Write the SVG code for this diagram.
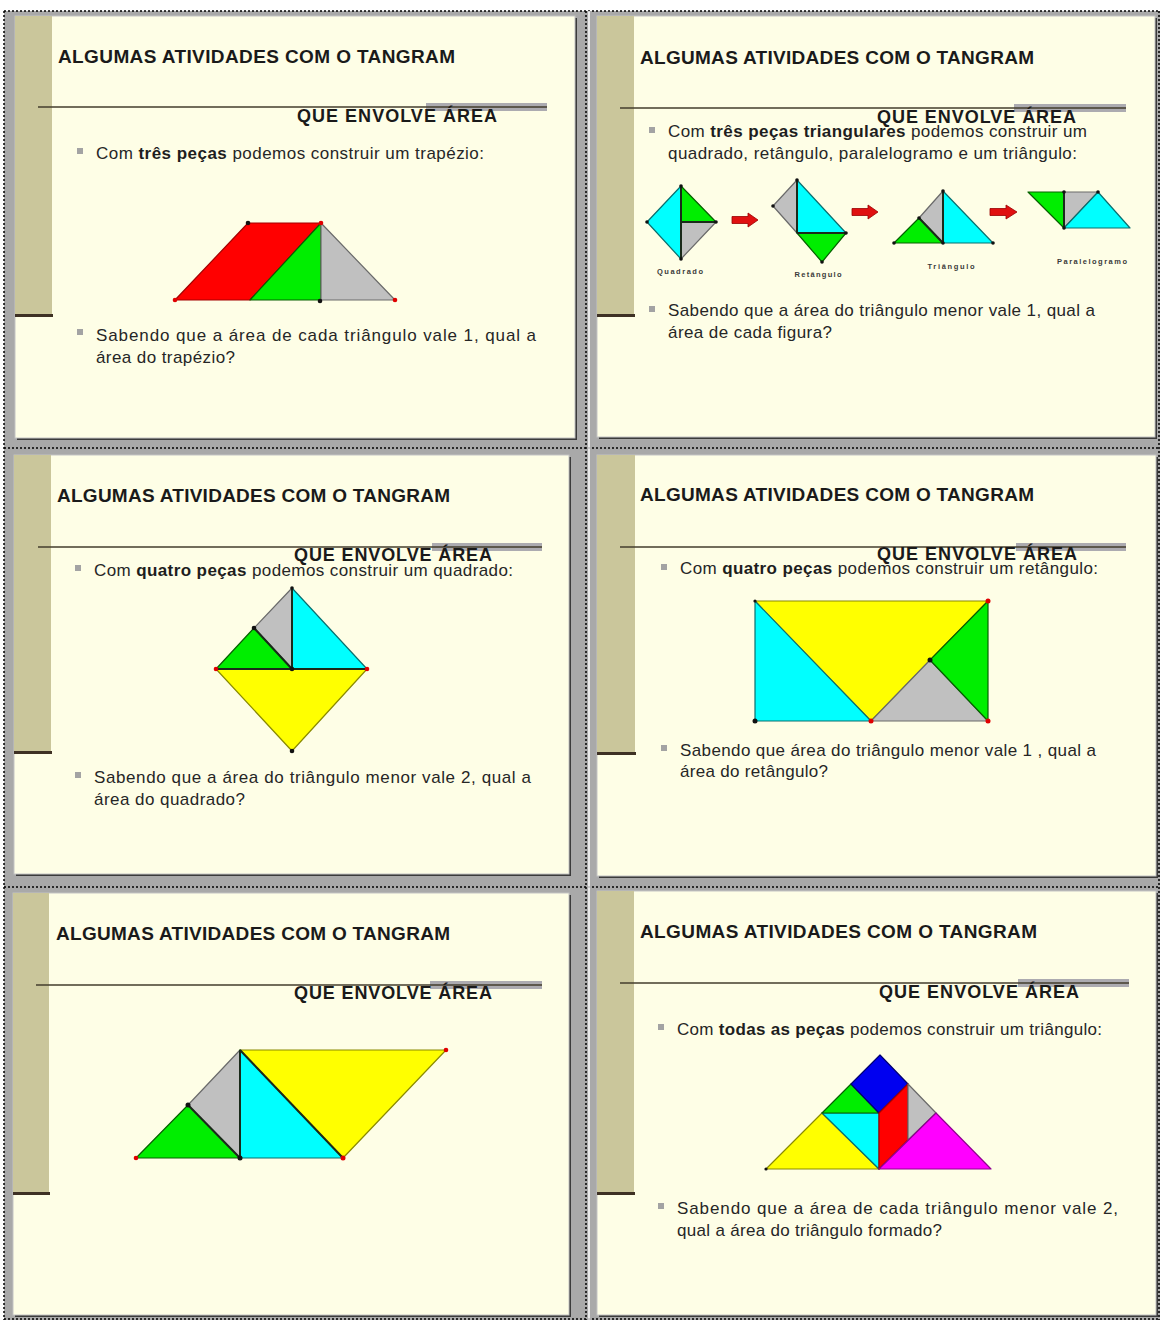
<svg xmlns="http://www.w3.org/2000/svg" width="1162" height="1320" viewBox="0 0 1162 1320">
<defs>
<style>
.frame{fill:#a9a9a9}
.dot{fill:none;stroke:#000;stroke-width:1.5;stroke-dasharray:2 2}
.gap{stroke:#fff;stroke-width:1.5}
.shadow{fill:#3b3b3b}
.slide{fill:#fefee6;stroke:#c4c4c4;stroke-width:1}
.strip{fill:#cac69b}
.stripline{fill:#3e3124}
.band{fill:#9d9ca6;opacity:0.85}
.hline{stroke:#433c2c;stroke-width:1.6}
.title{font-family:"Liberation Sans",Arial,sans-serif;font-weight:bold;font-size:19px;fill:#1a1a1a}
.sub{font-family:"Liberation Sans",Arial,sans-serif;font-weight:bold;font-size:18px;fill:#1a1a1a}
.body{font-family:"Liberation Sans",Arial,sans-serif;font-size:17px;fill:#262626}
.b{font-weight:bold;fill:#1e1e1e}
.bul{fill:#a3a3a3}
.lbl{font-family:"Liberation Sans",Arial,sans-serif;font-weight:bold;font-size:7.5px;fill:#3a3a3a}
.red{fill:#ff0000;stroke:#a40000;stroke-width:1.2;stroke-linejoin:round}
.grn{fill:#00ee00;stroke:#066000;stroke-width:1.2;stroke-linejoin:round}
.gry{fill:#c0c0c0;stroke:#6a6a6a;stroke-width:1.2;stroke-linejoin:round}
.cyn{fill:#00ffff;stroke:#0a6f6f;stroke-width:1.2;stroke-linejoin:round}
.yel{fill:#ffff00;stroke:#8a8a00;stroke-width:1.2;stroke-linejoin:round}
.blu{fill:#0000f0;stroke:#000070;stroke-width:1.2;stroke-linejoin:round}
.mag{fill:#ff00ff;stroke:#900090;stroke-width:1.2;stroke-linejoin:round}
.edge{stroke:#1a2a1a;stroke-width:2}
.dk{fill:#111}
.rd{fill:#e00000}
.arr{fill:#e01010;stroke:#900;stroke-width:0.8}
</style>
</defs>
<rect width="1162" height="1320" fill="#fff"/>
<rect class="frame" x="4" y="11" width="1156" height="1309"/>

<g id="slide1">
<rect class="shadow" x="17" y="18" width="560" height="422"/>
<rect class="slide" x="15" y="16" width="560" height="422"/>
<rect class="strip" x="15" y="16" width="37" height="299"/>
<rect class="stripline" x="15" y="314" width="38" height="3"/>
<rect class="band" x="426" y="103" width="121" height="8"/>
<line class="hline" x1="38" y1="107" x2="547" y2="107"/>
<text class="title" x="58" y="63" textLength="397" lengthAdjust="spacing">ALGUMAS ATIVIDADES COM O TANGRAM</text>
<text class="sub" x="297" y="122" textLength="200" lengthAdjust="spacing">QUE ENVOLVE ÁREA</text>
<rect class="bul" x="77" y="148" width="6" height="6"/>
<text class="body" x="96" y="159" textLength="388" lengthAdjust="spacing">Com <tspan class="b">três peças</tspan> podemos construir um trapézio:</text>
<polygon class="red" points="175,300 248,223 321,223 250,300"/>
<polygon class="grn" points="250,300 321,223 321,300"/>
<polygon class="gry" points="321,223 321,300 395,300"/>
<circle class="dk" cx="248" cy="223" r="2.3"/>
<circle class="rd" cx="321" cy="223" r="2.3"/>
<circle class="rd" cx="175" cy="300" r="2.3"/>
<circle class="dk" cx="320" cy="301" r="2.3"/>
<circle class="rd" cx="395" cy="300" r="2.3"/>
<rect class="bul" x="77" y="329" width="6" height="6"/>
<text class="body" x="96" y="341" textLength="440" lengthAdjust="spacing">Sabendo que a área de cada triângulo vale 1, qual a</text>
<text class="body" x="96" y="363" textLength="139" lengthAdjust="spacing">área do trapézio?</text>
</g>

<g id="slide2">
<rect class="shadow" x="599" y="18" width="558" height="421"/>
<rect class="slide" x="597" y="16" width="558" height="421"/>
<rect class="strip" x="597" y="16" width="37" height="299"/>
<rect class="stripline" x="597" y="314" width="38" height="3"/>
<rect class="band" x="1014" y="104" width="112" height="8"/>
<line class="hline" x1="620" y1="108" x2="1126" y2="108"/>
<text class="title" x="640" y="64" textLength="394" lengthAdjust="spacing">ALGUMAS ATIVIDADES COM O TANGRAM</text>
<text class="sub" x="877" y="123" textLength="199" lengthAdjust="spacing">QUE ENVOLVE ÁREA</text>
<rect class="bul" x="649" y="127" width="6" height="6"/>
<text class="body" x="668" y="137" textLength="419" lengthAdjust="spacing">Com <tspan class="b">três peças triangulares</tspan> podemos construir um</text>
<text class="body" x="668" y="159" textLength="409" lengthAdjust="spacing">quadrado, retângulo, paralelogramo e um triângulo:</text>
<g id="quadrado">
<polygon class="cyn" points="647,222 681,186 681,259"/>
<polygon class="grn" points="681,186 716,222 681,222"/>
<polygon class="gry" points="681,222 716,222 681,259"/>
<line class="edge" x1="681" y1="186" x2="681" y2="259"/>
<line class="edge" x1="681" y1="222" x2="716" y2="222"/>
<circle class="dk" cx="647" cy="222" r="1.8"/><circle class="dk" cx="681" cy="186" r="1.8"/><circle class="dk" cx="716" cy="222" r="1.8"/><circle class="dk" cx="681" cy="259" r="1.8"/>
<text class="lbl" x="680" y="274" text-anchor="middle" textLength="46" lengthAdjust="spacing">Quadrado</text>
</g>
<g id="retangulo">
<polygon class="gry" points="797,180 773,206 797,233"/>
<polygon class="cyn" points="797,180 797,233 846,233"/>
<polygon class="grn" points="797,233 846,233 822,262"/>
<line class="edge" x1="797" y1="180" x2="797" y2="233"/>
<line class="edge" x1="797" y1="233" x2="846" y2="233"/>
<circle class="dk" cx="797" cy="180" r="1.8"/><circle class="dk" cx="773" cy="206" r="1.8"/><circle class="dk" cx="846" cy="233" r="1.8"/><circle class="dk" cx="822" cy="262" r="1.8"/>
<text class="lbl" x="818" y="277" text-anchor="middle" textLength="47" lengthAdjust="spacing">Retângulo</text>
</g>
<g id="triangulo">
<polygon class="gry" points="943,191 919,218 943,243"/>
<polygon class="cyn" points="943,191 943,243 993,243"/>
<polygon class="grn" points="919,218 943,243 894,243"/>
<line class="edge" x1="943" y1="191" x2="943" y2="243"/>
<line class="edge" x1="919" y1="218" x2="943" y2="243"/>
<circle class="dk" cx="943" cy="191" r="1.8"/><circle class="dk" cx="919" cy="218" r="1.8"/><circle class="dk" cx="943" cy="243" r="1.8"/><circle class="dk" cx="894" cy="243" r="1.8"/><circle class="dk" cx="993" cy="243" r="1.8"/>
<text class="lbl" x="951" y="269" text-anchor="middle" textLength="47" lengthAdjust="spacing">Triângulo</text>
</g>
<g id="paralelogramo">
<polygon class="grn" points="1028,192 1064,192 1064,228"/>
<polygon class="gry" points="1064,192 1098,192 1064,228"/>
<polygon class="cyn" points="1098,192 1064,228 1130,228"/>
<line class="edge" x1="1064" y1="192" x2="1064" y2="228"/>
<circle class="dk" cx="1064" cy="192" r="1.8"/><circle class="dk" cx="1098" cy="192" r="1.8"/><circle class="dk" cx="1064" cy="228" r="1.8"/>
<text class="lbl" x="1092" y="264" text-anchor="middle" textLength="70" lengthAdjust="spacing">Paralelogramo</text>
</g>
<g id="connectors">
<polygon class="arr" points="732,216.5 748,216.5 748,213 758,220 748,227 748,223.5 732,223.5"/>
<polygon class="arr" points="852,208.5 868,208.5 868,205 878,212 868,219 868,215.5 852,215.5"/>
<polygon class="arr" points="990,208.5 1006,208.5 1006,205 1017,212 1006,219 1006,215.5 990,215.5"/>
</g>
<rect class="bul" x="649" y="306" width="6" height="6"/>
<text class="body" x="668" y="316" textLength="427" lengthAdjust="spacing">Sabendo que a área do triângulo menor vale 1, qual a</text>
<text class="body" x="668" y="338" textLength="164" lengthAdjust="spacing">área de cada figura?</text>
</g>

<g id="slide3">
<rect class="shadow" x="16" y="457" width="555" height="419"/>
<rect class="slide" x="14" y="455" width="555" height="419"/>
<rect class="strip" x="14" y="455" width="37" height="297"/>
<rect class="stripline" x="14" y="751" width="38" height="3"/>
<rect class="band" x="432" y="543" width="110" height="8"/>
<line class="hline" x1="38" y1="547" x2="542" y2="547"/>
<text class="title" x="57" y="502" textLength="393" lengthAdjust="spacing">ALGUMAS ATIVIDADES COM O TANGRAM</text>
<text class="sub" x="294" y="561" textLength="198" lengthAdjust="spacing">QUE ENVOLVE ÁREA</text>
<rect class="bul" x="75" y="565" width="6" height="6"/>
<text class="body" x="94" y="576" textLength="419" lengthAdjust="spacing">Com <tspan class="b">quatro peças</tspan> podemos construir um quadrado:</text>
<polygon class="gry" points="292,588 254,628 292,669"/>
<polygon class="cyn" points="292,588 292,669 367,669"/>
<polygon class="grn" points="216,669 254,628 292,669"/>
<polygon class="yel" points="216,669 367,669 292,751"/>
<line class="edge" x1="292" y1="588" x2="292" y2="669"/>
<line class="edge" x1="254" y1="628" x2="292" y2="669"/>
<line class="edge" x1="216" y1="669" x2="367" y2="669"/>
<circle class="dk" cx="292" cy="588" r="1.8"/>
<circle class="dk" cx="254" cy="628" r="2.3"/>
<circle class="dk" cx="292" cy="669" r="2.3"/>
<circle class="rd" cx="216" cy="669" r="2.3"/>
<circle class="rd" cx="367" cy="669" r="2.3"/>
<circle class="dk" cx="292" cy="751" r="2.3"/>
<rect class="bul" x="75" y="772" width="6" height="6"/>
<text class="body" x="94" y="783" textLength="437" lengthAdjust="spacing">Sabendo que a área do triângulo menor vale 2, qual a</text>
<text class="body" x="94" y="805" textLength="151" lengthAdjust="spacing">área do quadrado?</text>
</g>

<g id="slide4">
<rect class="shadow" x="599" y="457" width="559" height="421"/>
<rect class="slide" x="597" y="455" width="559" height="421"/>
<rect class="strip" x="597" y="455" width="38" height="297"/>
<rect class="stripline" x="597" y="752" width="39" height="3"/>
<rect class="band" x="1016" y="543" width="110" height="8"/>
<line class="hline" x1="620" y1="547" x2="1126" y2="547"/>
<text class="title" x="640" y="501" textLength="394" lengthAdjust="spacing">ALGUMAS ATIVIDADES COM O TANGRAM</text>
<text class="sub" x="877" y="560" textLength="200" lengthAdjust="spacing">QUE ENVOLVE ÁREA</text>
<rect class="bul" x="661" y="564" width="6" height="6"/>
<text class="body" x="680" y="574" textLength="418" lengthAdjust="spacing">Com <tspan class="b">quatro peças</tspan> podemos construir um retângulo:</text>
<polygon class="yel" points="755,601 988,601 871,721"/>
<polygon class="cyn" points="755,601 755,721 871,721"/>
<polygon class="gry" points="871,721 930,660 988,721"/>
<polygon class="grn" points="988,601 988,721 930,660"/>
<circle class="dk" cx="755" cy="601" r="1.6"/>
<circle class="dk" cx="755" cy="721" r="2.5"/>
<circle class="rd" cx="871" cy="721" r="2.5"/>
<circle class="rd" cx="988" cy="721" r="2.5"/>
<circle class="rd" cx="988" cy="601" r="2.5"/>
<circle class="dk" cx="930" cy="660" r="2.5"/>
<rect class="bul" x="661" y="745" width="6" height="6"/>
<text class="body" x="680" y="756" textLength="416" lengthAdjust="spacing">Sabendo que área do triângulo menor vale 1 , qual a</text>
<text class="body" x="680" y="777" textLength="148" lengthAdjust="spacing">área do retângulo?</text>
</g>

<g id="slide5">
<rect class="shadow" x="15" y="895" width="556" height="422"/>
<rect class="slide" x="13" y="893" width="556" height="422"/>
<rect class="strip" x="13" y="893" width="36" height="299"/>
<rect class="stripline" x="13" y="1192" width="37" height="3"/>
<rect class="band" x="430" y="981" width="112" height="8"/>
<line class="hline" x1="36" y1="985" x2="542" y2="985"/>
<text class="title" x="56" y="940" textLength="394" lengthAdjust="spacing">ALGUMAS ATIVIDADES COM O TANGRAM</text>
<text class="sub" x="294" y="999" textLength="198" lengthAdjust="spacing">QUE ENVOLVE ÁREA</text>
<polygon class="grn" points="136,1158 188,1105 240,1158"/>
<polygon class="gry" points="188,1105 240,1050 240,1158"/>
<polygon class="cyn" points="240,1050 240,1158 343,1158"/>
<polygon class="yel" points="240,1050 446,1050 343,1158"/>
<line class="edge" x1="240" y1="1050" x2="240" y2="1158"/>
<line class="edge" x1="188" y1="1105" x2="240" y2="1158"/>
<line class="edge" x1="240" y1="1050" x2="343" y2="1158"/>
<circle class="rd" cx="136" cy="1158" r="2.3"/>
<circle class="dk" cx="188" cy="1105" r="2.5"/>
<circle class="dk" cx="240" cy="1158" r="2.5"/>
<circle class="rd" cx="343" cy="1158" r="2.5"/>
<circle class="rd" cx="446" cy="1050" r="2.3"/>
</g>

<g id="slide6">
<rect class="shadow" x="599" y="893" width="559" height="424"/>
<rect class="slide" x="597" y="891" width="559" height="424"/>
<rect class="strip" x="597" y="891" width="37" height="301"/>
<rect class="stripline" x="597" y="1192" width="38" height="3"/>
<rect class="band" x="1018" y="979" width="111" height="8"/>
<line class="hline" x1="620" y1="983" x2="1129" y2="983"/>
<text class="title" x="640" y="938" textLength="397" lengthAdjust="spacing">ALGUMAS ATIVIDADES COM O TANGRAM</text>
<text class="sub" x="879" y="998" textLength="200" lengthAdjust="spacing">QUE ENVOLVE ÁREA</text>
<rect class="bul" x="658" y="1024" width="6" height="6"/>
<text class="body" x="677" y="1035" textLength="425" lengthAdjust="spacing">Com <tspan class="b">todas as peças</tspan> podemos construir um triângulo:</text>
<polygon class="yel" points="766,1169 879,1169 822,1113"/>
<polygon class="cyn" points="822,1113 879,1113 879,1169"/>
<polygon class="grn" points="822,1113 879,1113 851,1084"/>
<polygon class="blu" points="880,1055 851,1084 879,1113 908,1084"/>
<polygon class="red" points="879,1113 908,1084 908,1140 879,1169"/>
<polygon class="gry" points="908,1084 936,1113 908,1140"/>
<polygon class="mag" points="879,1169 991,1169 936,1113"/>
<circle class="dk" cx="766" cy="1169" r="1.6"/>
<rect class="bul" x="658" y="1203" width="6" height="6"/>
<text class="body" x="677" y="1214" textLength="441" lengthAdjust="spacing">Sabendo que a área de cada triângulo menor vale 2,</text>
<text class="body" x="677" y="1236" textLength="265" lengthAdjust="spacing">qual a área do triângulo formado?</text>
</g>

<g id="grid">
<line class="dot" x1="4" y1="11" x2="1160" y2="11"/>
<line class="dot" x1="4" y1="448" x2="1160" y2="448"/>
<line class="dot" x1="4" y1="887" x2="1160" y2="887"/>
<line class="dot" x1="4" y1="1319" x2="1160" y2="1319"/>
<line class="dot" x1="4" y1="11" x2="4" y2="1320"/>
<line class="dot" x1="586" y1="11" x2="586" y2="1320"/>
<line class="gap" x1="589" y1="11" x2="589" y2="1320"/>
<line class="dot" x1="1159" y1="11" x2="1159" y2="1320"/>
</g>
</svg>
